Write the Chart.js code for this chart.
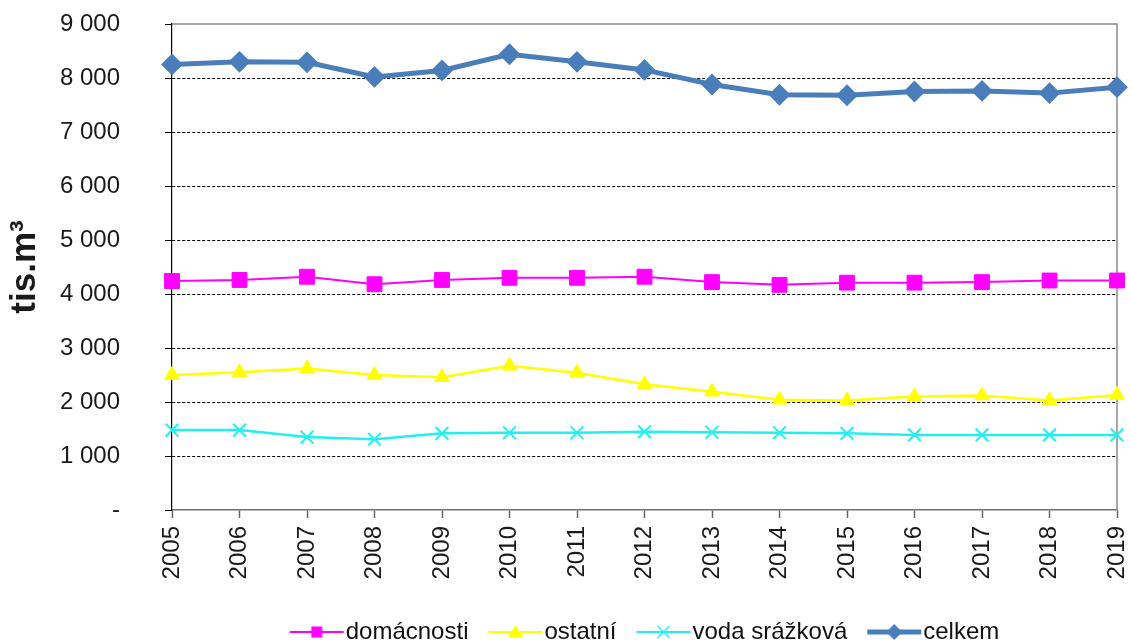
<!DOCTYPE html>
<html>
<head>
<meta charset="utf-8">
<title>tis.m3</title>
<script src="https://cdn.jsdelivr.net/npm/chart.js"></script>
<style>
  html, body { margin: 0; padding: 0; background: #fff; }
  #wrap { width: 1131px; height: 644px; }
</style>
</head>
<body>
<div id="wrap"><canvas id="myChart"></canvas></div>

<script>
    const years = ['2005', '2006', '2007', '2008', '2009', '2010', '2011', '2012', '2013', '2014', '2015', '2016', '2017', '2018', '2019'];
    const domacnosti = [4240, 4260, 4320, 4180, 4260, 4300, 4300, 4320, 4220, 4170, 4210, 4210, 4220, 4250, 4250];
    const ostatni = [2500, 2550, 2620, 2500, 2460, 2670, 2540, 2330, 2190, 2040, 2030, 2100, 2120, 2030, 2130];
    const vodaSrazkova = [1480, 1480, 1350, 1310, 1420, 1430, 1430, 1450, 1440, 1430, 1420, 1390, 1390, 1390, 1390];
    const celkem = [8250, 8300, 8290, 8020, 8140, 8440, 8300, 8150, 7880, 7690, 7680, 7750, 7760, 7720, 7830];
    const seriesNames = ['domácnosti', 'ostatní', 'voda srážková', 'celkem'];
    const yMax = 9000;
    const yStep = 1000;

    Chart.defaults.font.family = "'Liberation Sans', Arial, sans-serif";
    Chart.defaults.color = '#1a1a1a';

    function fmt(v) {
        if (v === 0) return '-';
        return String(v).replace(/\B(?=(\d{3})+(?!\d))/g, ' ');
    }

    // small picture for the legend: line with the marker in the middle
    function legendIcon(color, lw, shape) {
        const c = document.createElement('canvas');
        c.width = 110; c.height = 24;
        const g = c.getContext('2d');
        g.strokeStyle = color; g.fillStyle = color; g.lineWidth = lw;
        g.beginPath(); g.moveTo(33, 12); g.lineTo(87, 12); g.stroke();
        const x = 60, y = 12;
        g.beginPath();
        if (shape === 'rect') {
            g.rect(x - 5.5, y - 5.5, 11, 11); g.fill();
        } else if (shape === 'triangle') {
            g.moveTo(x, y - 7); g.lineTo(x + 7, y + 5); g.lineTo(x - 7, y + 5); g.closePath(); g.fill();
        } else if (shape === 'crossRot') {
            g.lineWidth = 1.5;
            g.moveTo(x - 6, y - 6); g.lineTo(x + 6, y + 6);
            g.moveTo(x + 6, y - 6); g.lineTo(x - 6, y + 6); g.stroke();
        } else {
            g.moveTo(x, y - 8); g.lineTo(x + 8, y); g.lineTo(x, y + 8); g.lineTo(x - 8, y); g.closePath(); g.fill();
        }
        return c;
    }

    const cdata = {
        labels: years,
        datasets: [{
            label: seriesNames[0],
            data: domacnosti,
            borderColor: '#ff00ff',
            backgroundColor: '#ff00ff',
            borderWidth: 2,
            pointStyle: 'rect',
            pointRadius: 10.5,
            pointBorderWidth: 1
        }, {
            label: seriesNames[1],
            data: ostatni,
            borderColor: '#ffff00',
            backgroundColor: '#ffff00',
            borderWidth: 2.5,
            pointStyle: 'triangle',
            pointRadius: 8.5,
            pointBorderWidth: 1
        }, {
            label: seriesNames[2],
            data: vodaSrazkova,
            borderColor: '#22f0f0',
            backgroundColor: '#22f0f0',
            borderWidth: 2.5,
            pointStyle: 'crossRot',
            pointRadius: 9,
            pointBorderWidth: 2
        }, {
            label: seriesNames[3],
            data: celkem,
            borderColor: '#4a7ebb',
            backgroundColor: '#4a7ebb',
            borderWidth: 5,
            pointStyle: 'rectRot',
            pointRadius: 9.5,
            pointBorderWidth: 2
        }]
    };

    const icons = [
        legendIcon('#ff00ff', 2, 'rect'),
        legendIcon('#ffff00', 2, 'triangle'),
        legendIcon('#22f0f0', 2, 'crossRot'),
        legendIcon('#4a7ebb', 5, 'rectRot')
    ];

    const frame = {
        id: 'frame',
        afterLayout(chart) {
            chart.legend.top += 10;
            chart.legend.bottom += 10;
        },
        beforeDatasetsDraw(chart) {
            const a = chart.chartArea, c = chart.ctx;
            c.save();
            c.strokeStyle = '#8c8c8c';
            c.lineWidth = 1.5;
            c.beginPath();
            c.moveTo(a.left, a.top); c.lineTo(a.right, a.top); c.lineTo(a.right, a.bottom);
            c.stroke();
            c.restore();
        }
    };

    const config = {
        type: 'line',
        data: cdata,
        plugins: [frame],
        options: {
            maintainAspectRatio: false,
            responsive: true,
            animation: false,
            layout: { padding: { top: 24, right: 14, left: 0, bottom: 0 } },
            elements: { line: { tension: 0 } },
            scales: {
                x: {
                    offset: false,
                    grid: { drawOnChartArea: false, drawTicks: true, tickLength: 8, tickColor: '#666', tickWidth: 1.5 },
                    border: { color: '#707070', width: 1.5 },
                    ticks: { autoSkip: false, minRotation: 90, maxRotation: 90, padding: 8, font: { size: 24 }, color: '#1a1a1a' },
                    afterFit(scale) {
                        scale.height = 80;
                        scale.paddingLeft = 0; scale.paddingRight = 0;
                        scale.paddingTop = 0; scale.paddingBottom = 0;
                    }
                },
                y: {
                    min: 0,
                    max: yMax,
                    grid: {
                        color: (ctx) => (ctx.tick && (ctx.tick.value === 0 || ctx.tick.value === yMax)) ? 'rgba(0,0,0,0)' : '#000',
                        lineWidth: 1,
                        tickLength: 7,
                        tickColor: '#000',
                        tickBorderDash: []
                    },
                    border: { color: '#000', width: 1.2, dash: [3, 2] },
                    ticks: { stepSize: yStep, padding: 45, font: { size: 24 }, color: '#1a1a1a', callback: (v) => fmt(v) },
                    title: { display: true, text: 'tis.m³', font: { size: 35, weight: 'bold' }, color: '#1a1a1a', padding: { top: 4, bottom: 0 } },
                    afterFit(scale) {
                        scale.width = 172;
                        scale.paddingLeft = 0; scale.paddingRight = 0;
                        scale.paddingTop = 0; scale.paddingBottom = 0;
                    }
                }
            },
            plugins: {
                tooltip: { enabled: false },
                legend: {
                    position: 'bottom',
                    fullSize: false,
                    labels: {
                        usePointStyle: true,
                        pointStyleWidth: 44,
                        padding: 20,
                        color: '#111',
                        font: { size: 24 },
                        generateLabels(chart) {
                            const items = Chart.defaults.plugins.legend.labels.generateLabels(chart);
                            items.forEach((it, i) => { it.pointStyle = icons[i]; });
                            return items;
                        }
                    }
                }
            }
        }
    };

    const ctx = document.getElementById('myChart').getContext('2d');
    const myChart = new Chart(ctx, config);
</script>
</body>
</html>
